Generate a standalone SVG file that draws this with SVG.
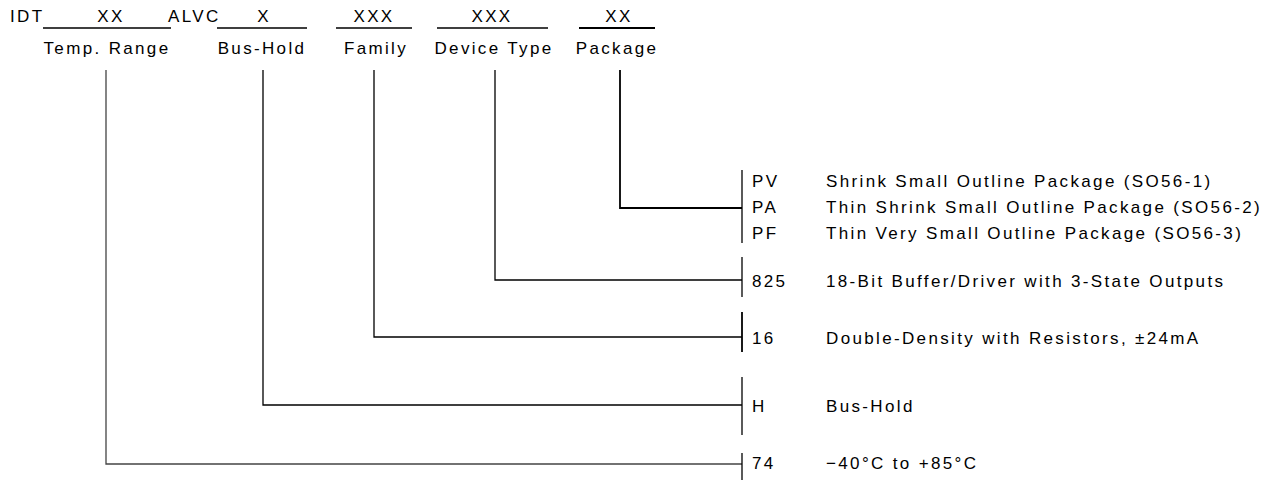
<svg xmlns="http://www.w3.org/2000/svg" width="1266" height="485" viewBox="0 0 1266 485">
<style>
text{font-family:"Liberation Sans",Arial,sans-serif;font-size:17px;fill:#000;letter-spacing:2.35px}
.m{text-anchor:middle}
.ln{stroke:#000;stroke-width:1.3;fill:none}
.th{stroke:#000;stroke-width:1.8;fill:none}
.g{stroke:#444;stroke-width:1.3;fill:none}
</style>
<rect width="1266" height="485" fill="#fff"/>
<g id="header">
<text x="10" y="22">IDT</text>
<text class="m" x="111" y="22">XX</text>
<text x="168" y="22">ALVC</text>
<text class="m" x="264" y="22">X</text>
<text class="m" x="374" y="22">XXX</text>
<text class="m" x="492" y="22">XXX</text>
<text class="m" x="619" y="22">XX</text>
<path class="ln" d="M43 28H171M217 28H307M336 28H412M437 28H548"/>
<path class="th" d="M579 28H655"/>
<text class="m" x="107" y="54">Temp. Range</text>
<text class="m" x="262" y="54">Bus-Hold</text>
<text class="m" x="376" y="54">Family</text>
<text class="m" x="494" y="54">Device Type</text>
<text class="m" x="617" y="54">Package</text>
</g>
<g id="connectors">
<path class="g" d="M106 70V464H742"/>
<path class="ln" d="M263 70V405H742"/>
<path class="ln" d="M374 70V337H742"/>
<path class="ln" d="M495 70V280H742"/>
<path class="th" d="M620 70V208H742"/>
</g>
<g id="package">
<path class="ln" d="M742 170V243"/>
<text x="752" y="187">PV</text>
<text x="826" y="187">Shrink Small Outline Package (SO56-1)</text>
<text x="752" y="213">PA</text>
<text x="826" y="213">Thin Shrink Small Outline Package (SO56-2)</text>
<text x="752" y="239">PF</text>
<text x="826" y="239">Thin Very Small Outline Package (SO56-3)</text>
</g>
<g id="device">
<path class="ln" d="M742 257V297"/>
<text x="752" y="287">825</text>
<text x="826" y="287">18-Bit Buffer/Driver with 3-State Outputs</text>
</g>
<g id="family">
<path class="th" d="M742 312V352"/>
<text x="752" y="344">16</text>
<text x="826" y="344">Double-Density with Resistors, ±24mA</text>
</g>
<g id="bushold">
<path class="ln" d="M742 377V435"/>
<text x="752" y="412">H</text>
<text x="826" y="412">Bus-Hold</text>
</g>
<g id="temp">
<path class="ln" d="M742 453V480"/>
<text x="752" y="469">74</text>
<text x="826" y="469">−40°C to +85°C</text>
</g>
</svg>
